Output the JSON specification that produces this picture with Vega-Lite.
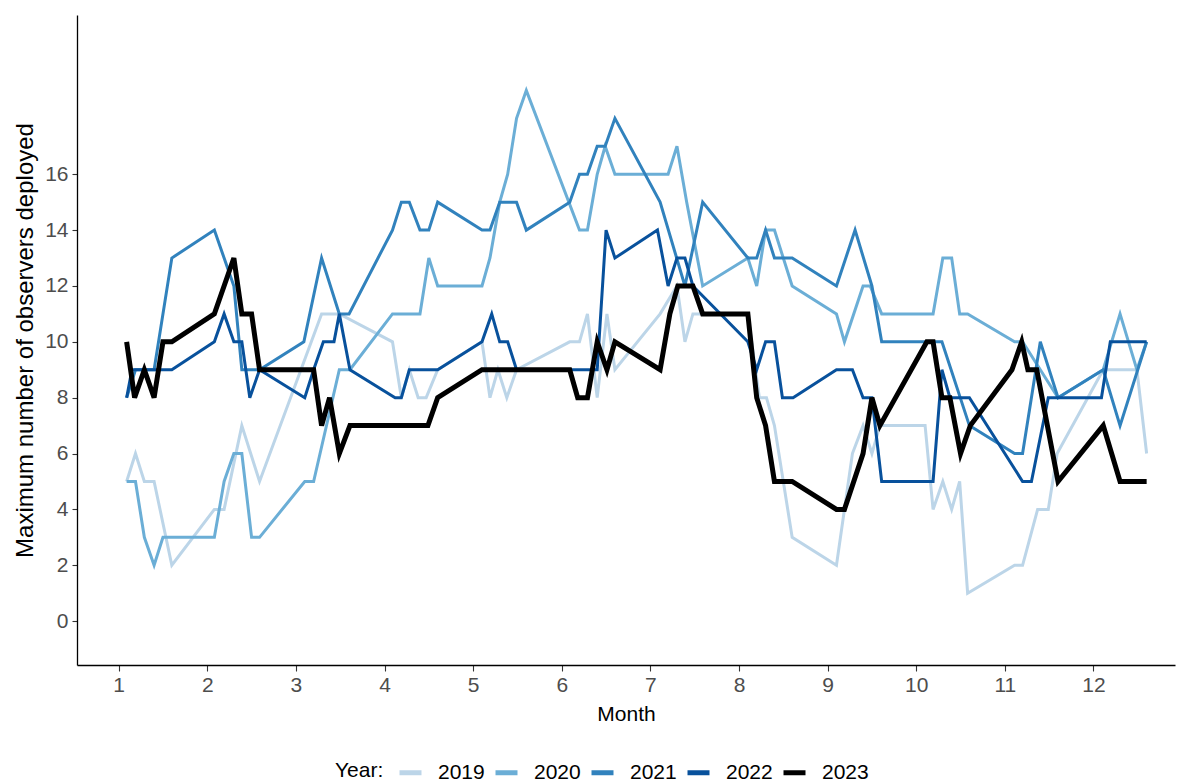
{
  "$schema": "https://vega.github.io/schema/vega-lite/v6.json",
  "width": 1098,
  "height": 650,
  "autosize": {"type": "none"},
  "padding": {"left": 77, "top": 15, "right": 7, "bottom": 118},
  "background": "white",
  "config": {"view": {"stroke": null}, "font": "Liberation Sans"},
  "datasets": {
    "raw": [
      {"Year":"2019","Month":1.09,"Observers":5},{"Year":"2019","Month":1.19,"Observers":6},{"Year":"2019","Month":1.29,"Observers":5},{"Year":"2019","Month":1.40,"Observers":5},{"Year":"2019","Month":1.60,"Observers":2},{"Year":"2019","Month":2.08,"Observers":4},{"Year":"2019","Month":2.19,"Observers":4},{"Year":"2019","Month":2.39,"Observers":7},{"Year":"2019","Month":2.59,"Observers":5},{"Year":"2019","Month":3.29,"Observers":11},{"Year":"2019","Month":3.49,"Observers":11},{"Year":"2019","Month":4.09,"Observers":10},{"Year":"2019","Month":4.19,"Observers":8},{"Year":"2019","Month":4.28,"Observers":9},{"Year":"2019","Month":4.38,"Observers":8},{"Year":"2019","Month":4.47,"Observers":8},{"Year":"2019","Month":4.60,"Observers":9},{"Year":"2019","Month":5.10,"Observers":10},{"Year":"2019","Month":5.19,"Observers":8},{"Year":"2019","Month":5.28,"Observers":9},{"Year":"2019","Month":5.38,"Observers":8},{"Year":"2019","Month":5.49,"Observers":9},{"Year":"2019","Month":6.09,"Observers":10},{"Year":"2019","Month":6.20,"Observers":10},{"Year":"2019","Month":6.29,"Observers":11},{"Year":"2019","Month":6.40,"Observers":8},{"Year":"2019","Month":6.51,"Observers":11},{"Year":"2019","Month":6.60,"Observers":9},{"Year":"2019","Month":7.11,"Observers":11},{"Year":"2019","Month":7.30,"Observers":12},{"Year":"2019","Month":7.39,"Observers":10},{"Year":"2019","Month":7.48,"Observers":11},{"Year":"2019","Month":8.10,"Observers":11},{"Year":"2019","Month":8.23,"Observers":8},{"Year":"2019","Month":8.31,"Observers":8},{"Year":"2019","Month":8.40,"Observers":7},{"Year":"2019","Month":8.60,"Observers":3},{"Year":"2019","Month":9.10,"Observers":2},{"Year":"2019","Month":9.28,"Observers":6},{"Year":"2019","Month":9.40,"Observers":7},{"Year":"2019","Month":9.50,"Observers":6},{"Year":"2019","Month":9.59,"Observers":7},{"Year":"2019","Month":10.10,"Observers":7},{"Year":"2019","Month":10.19,"Observers":4},{"Year":"2019","Month":10.30,"Observers":5},{"Year":"2019","Month":10.40,"Observers":4},{"Year":"2019","Month":10.49,"Observers":5},{"Year":"2019","Month":10.58,"Observers":1},{"Year":"2019","Month":11.11,"Observers":2},{"Year":"2019","Month":11.20,"Observers":2},{"Year":"2019","Month":11.37,"Observers":4},{"Year":"2019","Month":11.49,"Observers":4},{"Year":"2019","Month":11.59,"Observers":6},{"Year":"2019","Month":12.11,"Observers":9},{"Year":"2019","Month":12.49,"Observers":9},{"Year":"2019","Month":12.60,"Observers":6},

      {"Year":"2020","Month":1.09,"Observers":5},{"Year":"2020","Month":1.19,"Observers":5},{"Year":"2020","Month":1.29,"Observers":3},{"Year":"2020","Month":1.40,"Observers":2},{"Year":"2020","Month":1.50,"Observers":3},{"Year":"2020","Month":2.08,"Observers":3},{"Year":"2020","Month":2.19,"Observers":5},{"Year":"2020","Month":2.30,"Observers":6},{"Year":"2020","Month":2.39,"Observers":6},{"Year":"2020","Month":2.50,"Observers":3},{"Year":"2020","Month":2.59,"Observers":3},{"Year":"2020","Month":3.10,"Observers":5},{"Year":"2020","Month":3.20,"Observers":5},{"Year":"2020","Month":3.49,"Observers":9},{"Year":"2020","Month":3.61,"Observers":9},{"Year":"2020","Month":4.09,"Observers":11},{"Year":"2020","Month":4.40,"Observers":11},{"Year":"2020","Month":4.50,"Observers":13},{"Year":"2020","Month":4.60,"Observers":12},{"Year":"2020","Month":5.10,"Observers":12},{"Year":"2020","Month":5.19,"Observers":13},{"Year":"2020","Month":5.30,"Observers":15},{"Year":"2020","Month":5.39,"Observers":16},{"Year":"2020","Month":5.49,"Observers":18},{"Year":"2020","Month":5.60,"Observers":19},{"Year":"2020","Month":6.20,"Observers":14},{"Year":"2020","Month":6.29,"Observers":14},{"Year":"2020","Month":6.40,"Observers":16},{"Year":"2020","Month":6.49,"Observers":17},{"Year":"2020","Month":6.60,"Observers":16},{"Year":"2020","Month":7.11,"Observers":16},{"Year":"2020","Month":7.20,"Observers":16},{"Year":"2020","Month":7.30,"Observers":17},{"Year":"2020","Month":7.41,"Observers":15},{"Year":"2020","Month":7.59,"Observers":12},{"Year":"2020","Month":8.10,"Observers":13},{"Year":"2020","Month":8.20,"Observers":12},{"Year":"2020","Month":8.30,"Observers":14},{"Year":"2020","Month":8.40,"Observers":14},{"Year":"2020","Month":8.60,"Observers":12},{"Year":"2020","Month":9.10,"Observers":11},{"Year":"2020","Month":9.19,"Observers":10},{"Year":"2020","Month":9.40,"Observers":12},{"Year":"2020","Month":9.48,"Observers":12},{"Year":"2020","Month":9.61,"Observers":11},{"Year":"2020","Month":10.19,"Observers":11},{"Year":"2020","Month":10.30,"Observers":13},{"Year":"2020","Month":10.40,"Observers":13},{"Year":"2020","Month":10.49,"Observers":11},{"Year":"2020","Month":10.58,"Observers":11},{"Year":"2020","Month":11.11,"Observers":10},{"Year":"2020","Month":11.20,"Observers":10},{"Year":"2020","Month":11.60,"Observers":8},{"Year":"2020","Month":12.11,"Observers":9},{"Year":"2020","Month":12.30,"Observers":11},{"Year":"2020","Month":12.49,"Observers":9},{"Year":"2020","Month":12.60,"Observers":10},

      {"Year":"2021","Month":1.09,"Observers":8},{"Year":"2021","Month":1.19,"Observers":9},{"Year":"2021","Month":1.29,"Observers":9},{"Year":"2021","Month":1.40,"Observers":9},{"Year":"2021","Month":1.60,"Observers":13},{"Year":"2021","Month":2.08,"Observers":14},{"Year":"2021","Month":2.30,"Observers":12},{"Year":"2021","Month":2.39,"Observers":9},{"Year":"2021","Month":2.59,"Observers":9},{"Year":"2021","Month":3.09,"Observers":10},{"Year":"2021","Month":3.29,"Observers":13},{"Year":"2021","Month":3.49,"Observers":11},{"Year":"2021","Month":3.60,"Observers":11},{"Year":"2021","Month":4.09,"Observers":14},{"Year":"2021","Month":4.19,"Observers":15},{"Year":"2021","Month":4.28,"Observers":15},{"Year":"2021","Month":4.40,"Observers":14},{"Year":"2021","Month":4.50,"Observers":14},{"Year":"2021","Month":4.60,"Observers":15},{"Year":"2021","Month":5.10,"Observers":14},{"Year":"2021","Month":5.19,"Observers":14},{"Year":"2021","Month":5.30,"Observers":15},{"Year":"2021","Month":5.49,"Observers":15},{"Year":"2021","Month":5.60,"Observers":14},{"Year":"2021","Month":6.09,"Observers":15},{"Year":"2021","Month":6.20,"Observers":16},{"Year":"2021","Month":6.29,"Observers":16},{"Year":"2021","Month":6.40,"Observers":17},{"Year":"2021","Month":6.49,"Observers":17},{"Year":"2021","Month":6.60,"Observers":18},{"Year":"2021","Month":7.11,"Observers":15},{"Year":"2021","Month":7.39,"Observers":12},{"Year":"2021","Month":7.59,"Observers":15},{"Year":"2021","Month":8.10,"Observers":13},{"Year":"2021","Month":8.20,"Observers":13},{"Year":"2021","Month":8.30,"Observers":14},{"Year":"2021","Month":8.40,"Observers":13},{"Year":"2021","Month":8.60,"Observers":13},{"Year":"2021","Month":9.10,"Observers":12},{"Year":"2021","Month":9.31,"Observers":14},{"Year":"2021","Month":9.50,"Observers":12},{"Year":"2021","Month":9.61,"Observers":10},{"Year":"2021","Month":10.19,"Observers":10},{"Year":"2021","Month":10.29,"Observers":10},{"Year":"2021","Month":10.60,"Observers":7},{"Year":"2021","Month":11.11,"Observers":6},{"Year":"2021","Month":11.20,"Observers":6},{"Year":"2021","Month":11.40,"Observers":10},{"Year":"2021","Month":11.60,"Observers":8},{"Year":"2021","Month":12.11,"Observers":9},{"Year":"2021","Month":12.30,"Observers":7},{"Year":"2021","Month":12.60,"Observers":10},

      {"Year":"2022","Month":1.09,"Observers":8},{"Year":"2022","Month":1.15,"Observers":9},{"Year":"2022","Month":1.60,"Observers":9},{"Year":"2022","Month":2.08,"Observers":10},{"Year":"2022","Month":2.19,"Observers":11},{"Year":"2022","Month":2.30,"Observers":10},{"Year":"2022","Month":2.39,"Observers":10},{"Year":"2022","Month":2.48,"Observers":8},{"Year":"2022","Month":2.59,"Observers":9},{"Year":"2022","Month":3.10,"Observers":8},{"Year":"2022","Month":3.20,"Observers":9},{"Year":"2022","Month":3.31,"Observers":10},{"Year":"2022","Month":3.43,"Observers":10},{"Year":"2022","Month":3.49,"Observers":11},{"Year":"2022","Month":3.61,"Observers":9},{"Year":"2022","Month":4.12,"Observers":8},{"Year":"2022","Month":4.19,"Observers":8},{"Year":"2022","Month":4.28,"Observers":9},{"Year":"2022","Month":4.60,"Observers":9},{"Year":"2022","Month":5.10,"Observers":10},{"Year":"2022","Month":5.21,"Observers":11},{"Year":"2022","Month":5.30,"Observers":10},{"Year":"2022","Month":5.39,"Observers":10},{"Year":"2022","Month":5.49,"Observers":9},{"Year":"2022","Month":6.40,"Observers":9},{"Year":"2022","Month":6.50,"Observers":14},{"Year":"2022","Month":6.60,"Observers":13},{"Year":"2022","Month":7.08,"Observers":14},{"Year":"2022","Month":7.20,"Observers":12},{"Year":"2022","Month":7.30,"Observers":13},{"Year":"2022","Month":7.39,"Observers":13},{"Year":"2022","Month":7.48,"Observers":12},{"Year":"2022","Month":8.10,"Observers":10},{"Year":"2022","Month":8.20,"Observers":9},{"Year":"2022","Month":8.30,"Observers":10},{"Year":"2022","Month":8.40,"Observers":10},{"Year":"2022","Month":8.49,"Observers":8},{"Year":"2022","Month":8.61,"Observers":8},{"Year":"2022","Month":9.10,"Observers":9},{"Year":"2022","Month":9.28,"Observers":9},{"Year":"2022","Month":9.40,"Observers":8},{"Year":"2022","Month":9.50,"Observers":8},{"Year":"2022","Month":9.61,"Observers":5},{"Year":"2022","Month":10.19,"Observers":5},{"Year":"2022","Month":10.29,"Observers":9},{"Year":"2022","Month":10.38,"Observers":8},{"Year":"2022","Month":10.60,"Observers":8},{"Year":"2022","Month":11.20,"Observers":5},{"Year":"2022","Month":11.30,"Observers":5},{"Year":"2022","Month":11.49,"Observers":8},{"Year":"2022","Month":12.09,"Observers":8},{"Year":"2022","Month":12.19,"Observers":10},{"Year":"2022","Month":12.60,"Observers":10},

      {"Year":"2023","Month":1.09,"Observers":10},{"Year":"2023","Month":1.18,"Observers":8},{"Year":"2023","Month":1.29,"Observers":9},{"Year":"2023","Month":1.40,"Observers":8},{"Year":"2023","Month":1.50,"Observers":10},{"Year":"2023","Month":1.60,"Observers":10},{"Year":"2023","Month":2.08,"Observers":11},{"Year":"2023","Month":2.30,"Observers":13},{"Year":"2023","Month":2.39,"Observers":11},{"Year":"2023","Month":2.50,"Observers":11},{"Year":"2023","Month":2.59,"Observers":9},{"Year":"2023","Month":3.20,"Observers":9},{"Year":"2023","Month":3.29,"Observers":7},{"Year":"2023","Month":3.38,"Observers":8},{"Year":"2023","Month":3.49,"Observers":6},{"Year":"2023","Month":3.61,"Observers":7},{"Year":"2023","Month":4.49,"Observers":7},{"Year":"2023","Month":4.60,"Observers":8},{"Year":"2023","Month":5.10,"Observers":9},{"Year":"2023","Month":6.09,"Observers":9},{"Year":"2023","Month":6.18,"Observers":8},{"Year":"2023","Month":6.29,"Observers":8},{"Year":"2023","Month":6.40,"Observers":10},{"Year":"2023","Month":6.51,"Observers":9},{"Year":"2023","Month":6.60,"Observers":10},{"Year":"2023","Month":7.11,"Observers":9},{"Year":"2023","Month":7.22,"Observers":11},{"Year":"2023","Month":7.31,"Observers":12},{"Year":"2023","Month":7.48,"Observers":12},{"Year":"2023","Month":7.59,"Observers":11},{"Year":"2023","Month":8.10,"Observers":11},{"Year":"2023","Month":8.20,"Observers":8},{"Year":"2023","Month":8.30,"Observers":7},{"Year":"2023","Month":8.40,"Observers":5},{"Year":"2023","Month":8.60,"Observers":5},{"Year":"2023","Month":9.10,"Observers":4},{"Year":"2023","Month":9.19,"Observers":4},{"Year":"2023","Month":9.40,"Observers":6},{"Year":"2023","Month":9.50,"Observers":8},{"Year":"2023","Month":9.59,"Observers":7},{"Year":"2023","Month":10.12,"Observers":10},{"Year":"2023","Month":10.19,"Observers":10},{"Year":"2023","Month":10.29,"Observers":8},{"Year":"2023","Month":10.38,"Observers":8},{"Year":"2023","Month":10.50,"Observers":6},{"Year":"2023","Month":10.61,"Observers":7},{"Year":"2023","Month":11.08,"Observers":9},{"Year":"2023","Month":11.19,"Observers":10},{"Year":"2023","Month":11.26,"Observers":9},{"Year":"2023","Month":11.36,"Observers":9},{"Year":"2023","Month":11.60,"Observers":5},{"Year":"2023","Month":12.11,"Observers":7},{"Year":"2023","Month":12.30,"Observers":5},{"Year":"2023","Month":12.60,"Observers":5}
    ]
  },
  "data": {"name": "raw"},
  "encoding": {
    "x": {
      "field": "Month", "type": "quantitative",
      "scale": {"domain": [0.53, 12.92], "nice": false, "zero": false},
      "axis": {
        "values": [1,2,3,4,5,6,7,8,9,10,11,12],
        "grid": false, "domainColor": "#000000", "domainWidth": 1.3,
        "tickColor": "#333333", "tickSize": 6, "tickWidth": 1.1,
        "labelFontSize": 21, "labelColor": "#4d4d4d", "labelPadding": 3,
        "title": "Month", "titleFontSize": 21, "titleFontWeight": "normal",
        "titleColor": "#000000", "titlePadding": 8
      }
    },
    "y": {
      "field": "Observers", "type": "quantitative",
      "scale": {"domain": [-1.57, 21.7], "nice": false, "zero": false},
      "axis": {
        "values": [0,2,4,6,8,10,12,14,16],
        "grid": false, "domainColor": "#000000", "domainWidth": 1.3,
        "tickColor": "#333333", "tickSize": 5, "tickWidth": 1.1,
        "labelFontSize": 21, "labelColor": "#4d4d4d", "labelPadding": 4,
        "title": "Maximum number of observers deployed", "titleFontSize": 24,
        "titleFontWeight": "normal", "titleColor": "#000000", "titlePadding": 7
      }
    },
    "color": {
      "field": "Year", "type": "nominal",
      "scale": {
        "domain": ["2019","2020","2021","2022","2023"],
        "range": ["#bcd5e8","#6baed6","#3182bd","#08519c","#000000"]
      },
      "legend": {
        "orient": "none", "legendX": 258, "legendY": 744,
        "direction": "horizontal", "title": "Year:", "titleOrient": "left",
        "titleFontSize": 21, "titleFontWeight": "normal", "titleColor": "#000000",
        "titlePadding": 13,
        "labelFontSize": 21, "labelColor": "#000000", "labelOffset": 14,
        "symbolType": "stroke", "symbolSize": 484, "symbolStrokeWidth": 5,
        "columnPadding": 0
      }
    }
  },
  "layer": [
    {"transform": [{"filter": "datum.Year != '2023'"}], "mark": {"type": "line", "strokeWidth": 3}},
    {"transform": [{"filter": "datum.Year == '2023'"}], "mark": {"type": "line", "strokeWidth": 5}}
  ]
}
